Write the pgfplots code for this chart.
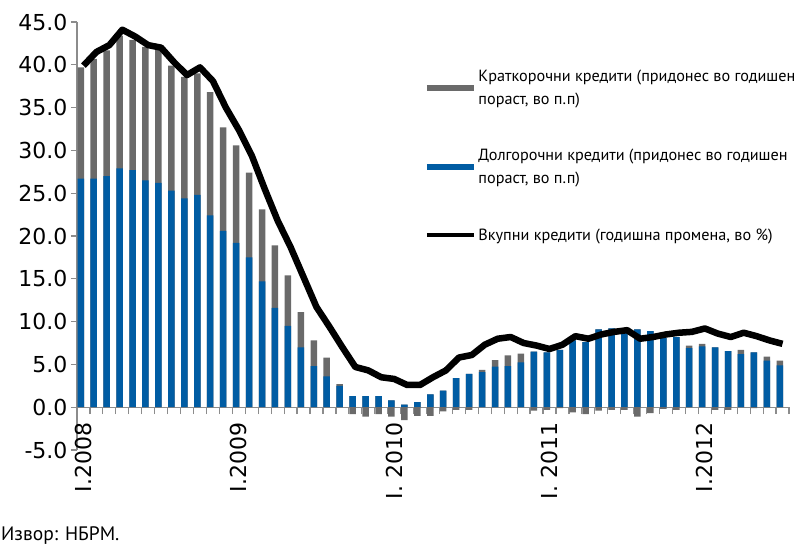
\documentclass[border=0pt]{standalone}
\usepackage{fontspec}
\setmainfont{DejaVu Sans}
\newfontfamily\legfont{PT Sans}
\usepackage{pgfplots}
\usepackage{pgfplotstable}
\pgfplotsset{compat=1.18}
\definecolor{barblue}{RGB}{0,92,163}
\definecolor{bargray}{RGB}{106,106,106}
\definecolor{axgray}{RGB}{140,140,140}

\pgfplotstableread{
idx blue short total
0 26.7 13.0 39.9
1 26.7 14.0 41.5
2 27.0 14.7 42.3
3 27.9 15.5 44.1
4 27.7 15.2 43.3
5 26.5 15.6 42.3
6 26.2 15.7 42.0
7 25.3 14.6 40.3
8 24.4 14.2 38.8
9 24.8 14.2 39.7
10 22.4 14.4 38.1
11 20.6 12.1 35.0
12 19.2 11.4 32.4
13 17.5 9.9 29.4
14 14.7 8.4 25.5
15 11.6 7.3 21.8
16 9.5 5.9 18.7
17 7.0 4.1 15.2
18 4.8 3.0 11.7
19 3.6 2.2 9.4
20 2.5 0.2 7.0
21 1.3 -0.8 4.7
22 1.3 -1.1 4.3
23 1.3 -0.8 3.5
24 0.8 -1.1 3.3
25 0.3 -1.5 2.6
26 0.6 -1.0 2.6
27 1.5 -1.0 3.5
28 1.95 -0.5 4.3
29 3.4 -0.3 5.8
30 3.9 -0.3 6.1
31 4.1 0.25 7.3
32 4.75 0.75 8.0
33 4.8 1.25 8.2
34 5.25 1.0 7.5
35 6.5 -0.4 7.2
36 6.4 -0.3 6.8
37 6.7 -0.1 7.3
38 7.8 -0.6 8.3
39 7.6 -0.8 8.0
40 9.1 -0.4 8.5
41 9.2 -0.3 8.8
42 9.0 -0.3 9.0
43 9.1 -1.1 8.0
44 8.9 -0.7 8.2
45 8.1 -0.2 8.5
46 8.2 -0.3 8.7
47 6.9 0.3 8.8
48 7.1 0.3 9.2
49 7.0 -0.3 8.6
50 6.55 -0.3 8.2
51 6.2 0.5 8.7
52 6.4 -0.1 8.3
53 5.45 0.45 7.8
54 4.9 0.55 7.4
}\loans

\begin{document}
\begin{tikzpicture}
\path[use as bounding box] (-77pt,-99pt) rectangle (724pt,450pt);
\begin{axis}[
  at={(0pt,0pt)}, anchor=south west,
  scale only axis, width=712pt, height=428pt,
  xmin=-0.5, xmax=54.5, ymin=-5, ymax=45,
  axis x line*=middle, axis y line*=left,
  axis line style={axgray, line width=1.2pt},
  xtick={0,12,24,36,48},
  xticklabels={I.2008,I.2009,I. 2010,I. 2011,I.2012},
  minor xtick={-0.5,0.5,...,54.5},
  ytick={-5,0,...,45},
  tick align=outside,
  major tick length=6pt, minor tick length=7pt,
  major x tick style={draw=none},
  minor x tick style={axgray, line width=1.2pt},
  major y tick style={axgray, line width=1.2pt},
  /pgf/number format/assume math mode=true,
  yticklabel style={/pgf/number format/.cd, fixed, fixed zerofill, precision=1},
  ticklabel style={font=\fontsize{22}{22}\selectfont},
  xticklabel style={rotate=90, anchor=east},
  xticklabel shift={6pt},
  legend cell align=left,
  legend style={at={(axis description cs:0.487,0.893)}, anchor=north west, draw=none, fill=none,
    font=\legfont\fontsize{16.2}{23}\selectfont, row sep=40.5pt, inner sep=0pt,
    nodes={align=left, inner sep=1.5pt}},
  legend image code/.code={\draw[#1] (0pt,0pt) -- (47pt,0pt);},
  graybar/.style={ybar, bar width=6.5pt, bar shift=-2.7pt, draw=none, fill=bargray},
  bluebar/.style={ybar, bar width=6.5pt, bar shift=-2.7pt, draw=none, fill=barblue},
]
\addplot[graybar, forget plot]
  table[x=idx, y expr={\thisrow{blue}+max(\thisrow{short},0)}] {\loans};
\addplot[bluebar, forget plot]
  table[x=idx, y=blue] {\loans};
\addplot[graybar, forget plot]
  table[x=idx, y expr={min(\thisrow{short},0)}] {\loans};
\addplot[black, line width=6.5pt, line join=round, forget plot]
  table[x=idx, y=total] {\loans};
\addlegendimage{bargray, line width=6pt}
\addlegendentry{Краткорочни кредити (придонес во годишен\\пораст, во п.п)}
\addlegendimage{barblue, line width=6pt}
\addlegendentry{Долгорочни кредити (придонес во годишен\\пораст, во п.п)}
\addlegendimage{black, line width=3.5pt}
\addlegendentry{Вкупни кредити (годишна промена, во \%)}
\end{axis}
\node[anchor=west, font=\legfont\fontsize{19.5}{19.5}\selectfont, inner sep=0pt] at (-76pt,-86pt) {Извор: НБРМ.};
\end{tikzpicture}
\end{document}
